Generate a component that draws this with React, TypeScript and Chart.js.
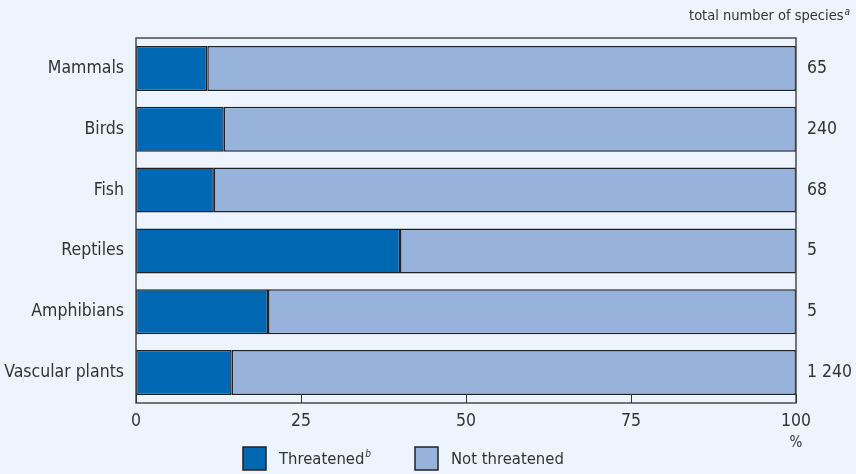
import React, { useEffect, useRef } from "react";
import { Chart, registerables } from "chart.js";

Chart.register(...registerables);

const categories = ["Mammals", "Birds", "Fish", "Reptiles", "Amphibians", "Vascular plants"];
const totalSpecies = ["65", "240", "68", "5", "5", "1 240"];
const threatened = [10.8, 13.3, 11.8, 40, 20, 14.5];
const notThreatened = [89.2, 86.7, 88.2, 60, 80, 85.5];
const seriesNames = ["Threatened", "Not threatened"];
const seriesNotes = ["b", ""];
const totalTitle = "total number of species";
const totalNote = "a";
const unitLabel = "%";

const BG = "#EDF4FD";
const DARK = "#0068B3";
const LIGHT = "#97B3DC";
const INK = "#333333";
const FONT = "'DejaVu Sans Condensed', sans-serif";

const decorPlugin = {
  id: "decor",
  beforeDraw(chart: any) {
    const { ctx, width, height } = chart;
    ctx.save();
    ctx.fillStyle = BG;
    ctx.fillRect(0, 0, width, height);
    ctx.restore();
  },
  afterDraw(chart: any) {
    const { ctx, chartArea } = chart;
    const x = chart.scales.x;
    ctx.save();
    // frame around plot area
    ctx.strokeStyle = "#4a4a4a";
    ctx.lineWidth = 1.5;
    ctx.strokeRect(chartArea.left, chartArea.top, chartArea.right - chartArea.left, chartArea.bottom - chartArea.top);
    // inward tick marks along the bottom
    ctx.lineWidth = 1;
    ctx.strokeStyle = "#333";
    x.ticks.forEach((t: any) => {
      const px = Math.round(x.getPixelForValue(t.value)) + 0.5;
      ctx.beginPath();
      ctx.moveTo(px, chartArea.bottom - 9);
      ctx.lineTo(px, chartArea.bottom);
      ctx.stroke();
    });
    // unit under the last tick
    ctx.fillStyle = INK;
    ctx.font = `15px ${FONT}`;
    ctx.textAlign = "center";
    ctx.textBaseline = "middle";
    ctx.fillText(unitLabel, x.getPixelForValue(100), 443);
    // column heading on the right
    ctx.textAlign = "right";
    ctx.textBaseline = "alphabetic";
    ctx.font = `italic 10px ${FONT}`;
    const noteW = ctx.measureText(totalNote).width;
    ctx.fillText(totalNote, 850, 15);
    ctx.font = `14.5px ${FONT}`;
    ctx.fillText(totalTitle, 850 - noteW - 1, 20);
    // legend
    const colors = [DARK, LIGHT];
    const starts = [243, 415];
    ctx.textAlign = "left";
    ctx.textBaseline = "middle";
    seriesNames.forEach((name, i) => {
      const bx = starts[i];
      ctx.fillStyle = colors[i];
      ctx.fillRect(bx, 447, 23, 23);
      ctx.strokeStyle = "#222";
      ctx.lineWidth = 1.5;
      ctx.strokeRect(bx, 447, 23, 23);
      ctx.fillStyle = INK;
      ctx.font = `16.5px ${FONT}`;
      ctx.fillText(name, bx + 36, 460);
      if (seriesNotes[i]) {
        const w = ctx.measureText(name).width;
        ctx.font = `italic 10px ${FONT}`;
        ctx.fillText(seriesNotes[i], bx + 36 + w + 1, 454);
      }
    });
    ctx.restore();
  },
};

export default function App() {
  const ref = useRef<HTMLCanvasElement>(null);
  useEffect(() => {
    const chart = new Chart(ref.current!, {
      type: "bar",
      data: {
        labels: categories,
        datasets: [
          {
            label: seriesNames[0],
            data: threatened,
            backgroundColor: DARK,
            borderColor: "#222",
            borderWidth: 1.5,
            borderSkipped: false,
            barPercentage: 0.74,
            categoryPercentage: 1,
          },
          {
            label: seriesNames[1],
            data: notThreatened,
            backgroundColor: LIGHT,
            borderColor: "#222",
            borderWidth: 1.5,
            borderSkipped: false,
            barPercentage: 0.74,
            categoryPercentage: 1,
          },
        ],
      },
      options: {
        indexAxis: "y",
        animation: false,
        responsive: true,
        maintainAspectRatio: false,
        layout: { padding: { top: 38, left: 0, right: 0, bottom: 0 } },
        plugins: { legend: { display: false }, tooltip: { enabled: false } },
        scales: {
          x: {
            type: "linear",
            stacked: true,
            min: 0,
            max: 100,
            ticks: { stepSize: 25, color: INK, font: { family: FONT, size: 17.5 }, padding: 8 },
            grid: { display: false, drawTicks: false },
            border: { display: false },
            afterFit: (s: any) => {
              s.height = 71;
            },
          },
          y: {
            type: "category",
            stacked: true,
            position: "left",
            ticks: { color: INK, font: { family: FONT, size: 17.5 }, padding: 12 },
            grid: { display: false, drawTicks: false },
            border: { display: false },
            afterFit: (s: any) => {
              s.width = 136;
            },
          },
          y2: {
            type: "category",
            labels: totalSpecies,
            position: "right",
            offset: true,
            ticks: { color: INK, font: { family: FONT, size: 17.5 }, padding: 11 },
            grid: { display: false, drawTicks: false },
            border: { display: false },
            afterFit: (s: any) => {
              s.width = 60;
            },
          },
        },
      },
      plugins: [decorPlugin],
    });
    return () => chart.destroy();
  }, []);
  return (
    <div style={{ position: "fixed", left: 0, top: 0, width: 856, height: 474, background: BG }}>
      <canvas ref={ref} />
    </div>
  );
}
